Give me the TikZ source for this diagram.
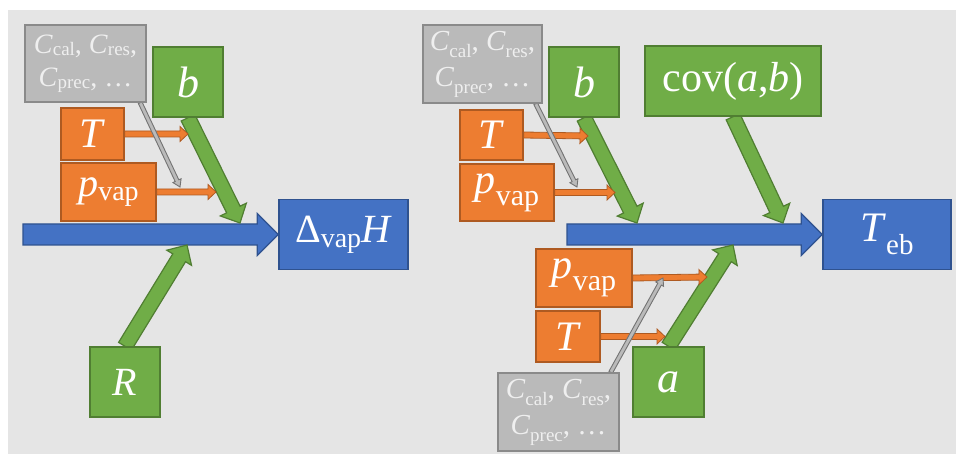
\documentclass[tikz,border=0pt]{standalone}
\usepackage{fontspec}
\setmainfont{Liberation Serif}
\usetikzlibrary{calc}

\definecolor{bggray}{HTML}{E5E5E5}
\definecolor{grfill}{HTML}{70AD47}
\definecolor{grline}{HTML}{507E32}
\definecolor{orfill}{HTML}{ED7D31}
\definecolor{orline}{HTML}{AE5A21}
\definecolor{blfill}{HTML}{4472C4}
\definecolor{blline}{HTML}{2F528F}
\definecolor{gyfill}{HTML}{BABABA}
\definecolor{gyline}{HTML}{8A8A8A}
\definecolor{gytext}{HTML}{EFEFEF}

\pgfdeclarelayer{back}
\pgfdeclarelayer{arrows}
\pgfsetlayers{back,arrows,main}

% style, from, to, half shaft, half head, head length
\newcommand{\blockarrow}[6]{%
  \coordinate (ba-t) at (#2);
  \coordinate (ba-p) at (#3);
  \coordinate (ba-h) at ($(ba-p)!#6!(ba-t)$);
  \draw[#1] ($(ba-t)!#4!90:(ba-p)$) -- ($(ba-h)!#4!90:(ba-p)$) -- ($(ba-h)!#5!90:(ba-p)$)
    -- (ba-p) -- ($(ba-h)!#5!-90:(ba-p)$) -- ($(ba-h)!#4!-90:(ba-p)$) -- ($(ba-t)!#4!-90:(ba-p)$) -- cycle;}
\newcommand{\lowsub}[3]{\raisebox{-#1pt}{\fontsize{#2}{#2}\selectfont #3}}

\tikzset{
  box/.style={rectangle,draw,line width=1.4pt,inner sep=0pt,text=white,align=center},
  greenbox/.style={box,fill=grfill,draw=grline},
  orangebox/.style={box,fill=orfill,draw=orline},
  bluebox/.style={box,fill=blfill,draw=blline},
  graybox/.style={box,fill=gyfill,draw=gyline,text=gytext,font=\fontsize{28}{33}\selectfont},
  big/.style={font=\fontsize{40}{40}\selectfont},
  greenarrow/.style={fill=grfill,draw=grline,line width=1.2pt,line join=miter},
  orangearrow/.style={fill=orfill,draw=orline,line width=0.8pt,line join=miter},
  bluearrow/.style={fill=blfill,draw=blline,line width=1.2pt,line join=miter},
  grayarrow/.style={fill=gyfill,draw=gray!90!black,line width=0.9pt,line join=miter}
}

\begin{document}
\begin{tikzpicture}[x=1pt,y=-1pt]
  \useasboundingbox (0,0) rectangle (956,454);
  \begin{pgfonlayer}{back}
    \fill[white] (0,0) rectangle (956,454);
    \fill[bggray] (8,10) rectangle (956,454);
  \end{pgfonlayer}

  % left
  \node[graybox,minimum width=121pt,minimum height=77pt] (gc1) at (85.5,63.5)
    {\textit{C}\lowsub{2}{19}{cal}, \textit{C}\lowsub{2}{19}{res},\\ \textit{C}\lowsub{2}{19}{prec}, \ldots};
  \node[greenbox,minimum width=70pt,minimum height=70pt,font=\fontsize{44}{44}\selectfont] (gb1) at (188,82) {\textit{b}};
  \node[orangebox,minimum width=63pt,minimum height=52pt,font=\fontsize{42}{42}\selectfont] (oT1) at (92.5,134) {\textit{T}};
  \node[orangebox,minimum width=95pt,minimum height=58pt,big] (op1) at (108.5,192) {\textit{p}\lowsub{4}{28}{vap}};
  \node[bluebox,minimum width=129pt,minimum height=70pt,big] (dH) at (343.5,234.5) {Δ\lowsub{5}{28}{vap}\textit{H}};
  \node[greenbox,minimum width=70pt,minimum height=70pt,big] (gR) at (125,382) {\textit{R}};
  \coordinate (lstart) at (23,234.5);
  \coordinate (lb) at (240,223);
  \coordinate (lR) at (187,245);
  \coordinate (lT) at (188,134);
  \coordinate (lp) at (216,192);
  \coordinate (lc) at (180,187);

  % right
  \node[graybox,minimum width=119pt,minimum height=78pt,font=\fontsize{29}{36}\selectfont] (gc2) at (482.5,64)
    {\textit{C}\lowsub{7}{19}{cal}, \textit{C}\lowsub{7}{19}{res},\\ \textit{C}\lowsub{7}{19}{prec}, \ldots};
  \node[greenbox,minimum width=70pt,minimum height=70pt,font=\fontsize{44}{44}\selectfont] (gb2) at (584,82) {\textit{b}};
  \node[greenbox,minimum width=176pt,minimum height=70pt,font=\fontsize{42}{42}\selectfont] (gcov) at (733,81) {cov(\textit{a},\textit{b})};
  \node[orangebox,minimum width=63pt,minimum height=50pt,font=\fontsize{42}{42}\selectfont] (oT2) at (491.5,135) {\textit{T}};
  \node[orangebox,minimum width=94pt,minimum height=57pt,font=\fontsize{42}{42}\selectfont] (op2) at (507,192.5) {\textit{p}\lowsub{12}{30}{vap}};
  \node[bluebox,minimum width=128pt,minimum height=70pt,font=\fontsize{42}{42}\selectfont] (Teb) at (887,234.5) {\textit{T}\lowsub{13}{29}{eb}};
  \node[orangebox,minimum width=96pt,minimum height=58pt,font=\fontsize{42}{42}\selectfont] (op3) at (584,278) {\textit{p}\lowsub{12}{30}{vap}};
  \node[orangebox,minimum width=64pt,minimum height=51pt,font=\fontsize{42}{42}\selectfont] (oT3) at (568,336.5) {\textit{T}};
  \node[greenbox,minimum width=71pt,minimum height=70pt,font=\fontsize{44}{44}\selectfont] (ga) at (668.5,382) {\textit{a}};
  \node[graybox,minimum width=121pt,minimum height=78pt,font=\fontsize{29}{36}\selectfont] (gc3) at (558.5,412)
    {\textit{C}\lowsub{7}{19}{cal}, \textit{C}\lowsub{7}{19}{res},\\ \textit{C}\lowsub{7}{19}{prec}, \ldots};
  \coordinate (rstart) at (567,234.5);
  \coordinate (rb) at (637,223);
  \coordinate (rcov) at (783,223);
  \coordinate (ra) at (733,245);
  \coordinate (rT) at (588,136);
  \coordinate (rp) at (615,192.5);
  \coordinate (rp2) at (707,277);
  \coordinate (rT2) at (665,336.5);
  \coordinate (rc) at (577,187);
  \coordinate (rc2) at (663,278);

  \begin{pgfonlayer}{arrows}
    \blockarrow{bluearrow}{lstart}{dH.west}{10.5pt}{21pt}{21pt}
    \blockarrow{greenarrow}{gb1.south}{lb}{7.5pt}{14.5pt}{15pt}
    \blockarrow{greenarrow}{gR.north}{lR}{7.5pt}{14.5pt}{15pt}
    \blockarrow{orangearrow}{oT1.east}{lT}{3pt}{7.5pt}{8pt}
    \blockarrow{orangearrow}{op1.east}{lp}{3pt}{7.5pt}{8pt}
    \blockarrow{grayarrow}{[xshift=-6.5pt]gc1.south east}{lc}{2pt}{4.5pt}{7pt}
    \blockarrow{bluearrow}{rstart}{Teb.west}{10.5pt}{21pt}{21pt}
    \blockarrow{greenarrow}{gb2.south}{rb}{7.5pt}{14.5pt}{15pt}
    \blockarrow{greenarrow}{gcov.south}{rcov}{7.5pt}{14.5pt}{15pt}
    \blockarrow{greenarrow}{ga.north}{ra}{7.5pt}{14.5pt}{15pt}
    \blockarrow{orangearrow}{oT2.east}{rT}{3pt}{7.5pt}{8pt}
    \blockarrow{orangearrow}{op2.east}{rp}{3pt}{7.5pt}{8pt}
    \blockarrow{orangearrow}{op3.east}{rp2}{3pt}{7.5pt}{8pt}
    \blockarrow{orangearrow}{oT3.east}{rT2}{3pt}{7.5pt}{8pt}
    \blockarrow{grayarrow}{[xshift=-7pt]gc2.south east}{rc}{2pt}{4.5pt}{7pt}
    \blockarrow{grayarrow}{[xshift=-9pt]gc3.north east}{rc2}{2pt}{4.5pt}{7pt}
  \end{pgfonlayer}
\end{tikzpicture}
\end{document}
